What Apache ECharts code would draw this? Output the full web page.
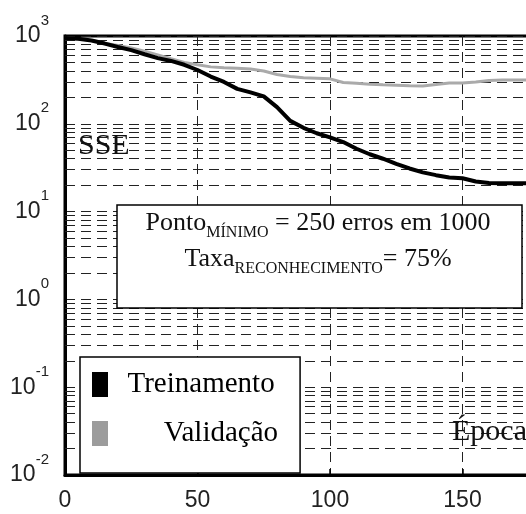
<!DOCTYPE html>
<html>
<head>
<meta charset="utf-8">
<script src="https://cdn.jsdelivr.net/npm/echarts@6/dist/echarts.min.js"></script>
<style>
  html, body { margin: 0; padding: 0; background: #fff; }
  #chart { width: 526px; height: 514px; }
</style>
</head>
<body>
<div id="chart"></div>
<script>
// épocas (eixo x)
const epocas = [0, 5, 10, 15, 20, 25, 30, 35, 40, 45, 50, 55, 60, 65, 70, 75, 80, 85, 90, 95,
  100, 105, 110, 115, 120, 125, 130, 135, 140, 145, 150, 155, 160, 165, 170, 175, 180, 185, 190, 195, 200]

// SSE de treinamento
const treinamento = [950, 930, 890, 820, 750, 690, 620, 560, 520, 470, 410, 345, 300, 250, 228, 205, 155, 108, 90, 78,
  70, 62, 52, 45, 40, 35, 31, 28, 26, 24.5, 24, 22, 21.2, 21, 21, 21, 21, 21, 21, 21, 21]

// SSE de validação
const validacao = [950, 930, 890, 830, 780, 730, 670, 610, 550, 500, 470, 445, 435, 430, 420, 400, 365, 345, 335, 330,
  325, 295, 290, 282, 278, 275, 272, 270, 280, 292, 292, 300, 312, 315, 316, 315, 315, 315, 315, 315, 315]

const nomes = ['Treinamento', 'Validação']

// linhas de grade secundárias (2..9 x 10^k)
const gradeMenor = []
for (let k = -2; k <= 2; k++) {
  for (let m = 2; m <= 9; m++) {
    gradeMenor.push(m * Math.pow(10, k))
  }
}

const serif = '"Liberation Serif", "Times New Roman", serif'
const sans = '"Liberation Sans Narrow", "Liberation Sans", Arial, sans-serif'
const tracejado = { color: '#222', width: 1, type: [10, 6] }

const chart = echarts.init(document.getElementById('chart'))

const option = {
  backgroundColor: '#fff',
  animation: false,
  grid: {
    left: 65,
    top: 36,
    bottom: 39,
    right: -69,
    outerBoundsMode: 'none',
    containLabel: false,
    show: true,
    borderColor: '#000',
    borderWidth: 3
  },
  legend: {
    data: nomes,
    orient: 'vertical',
    left: 80,
    top: 357,
    icon: 'rect',
    itemWidth: 16,
    itemHeight: 25,
    itemGap: 20,
    padding: [13, 22, 25, 12],
    borderColor: '#000',
    borderWidth: 1.5,
    backgroundColor: '#fff',
    formatter: name => (name === 'Treinamento' ? '  ' : '       ') + name,
    textStyle: {
      fontFamily: serif,
      fontSize: 29,
      lineHeight: 25,
      color: '#000'
    }
  },
  xAxis: {
    type: 'value',
    min: 0,
    max: 200,
    interval: 50,
    axisLine: { lineStyle: { color: '#000', width: 3 } },
    axisTick: { inside: true, length: 6, lineStyle: { color: '#000', width: 1.5 } },
    axisLabel: {
      margin: 14,
      fontFamily: sans,
      fontSize: 23,
      color: '#222'
    },
    splitLine: { show: true, lineStyle: tracejado }
  },
  yAxis: {
    type: 'log',
    logBase: 10,
    min: 0.01,
    max: 1000,
    axisLine: { show: true, lineStyle: { color: '#000', width: 3 } },
    axisTick: { show: false },
    splitLine: { show: true, lineStyle: tracejado },
    axisLabel: {
      margin: 16,
      formatter: v => '{b|10}{s|' + Math.round(Math.log10(v)) + '}',
      rich: {
        b: { fontFamily: sans, fontSize: 23, lineHeight: 46, color: '#222' },
        s: { fontFamily: sans, fontSize: 15, lineHeight: 14, verticalAlign: 'top', color: '#222' }
      }
    }
  },
  series: [
    {
      name: 'Validação',
      type: 'line',
      data: epocas.map((e, i) => [e, validacao[i]]),
      symbol: 'none',
      color: '#9c9c9c',
      lineStyle: { color: '#aaaaaa', width: 3 },
      z: 2,
      markLine: {
        silent: true,
        z: 1,
        symbol: ['none', 'none'],
        label: { show: false },
        lineStyle: tracejado,
        data: gradeMenor.map(v => ({ yAxis: v }))
      }
    },
    {
      name: 'Treinamento',
      type: 'line',
      data: epocas.map((e, i) => [e, treinamento[i]]),
      symbol: 'none',
      color: '#000',
      lineStyle: { color: '#000', width: 4 },
      z: 3
    }
  ],
  graphic: [
    {
      type: 'text',
      z: 10,
      style: { x: 78, y: 146, text: 'SSE', verticalAlign: 'middle', font: '30px ' + serif, fill: '#111' }
    },
    {
      type: 'text',
      z: 10,
      style: { x: 452, y: 432, text: 'Época', verticalAlign: 'middle', font: '30px ' + serif, fill: '#111' }
    },
    {
      type: 'rect',
      z: 10,
      shape: { x: 117, y: 205, width: 405, height: 103 },
      style: { fill: '#fff', stroke: '#000', lineWidth: 1.5 }
    },
    {
      type: 'text',
      z: 11,
      style: {
        x: 318,
        y: 205,
        align: 'center',
        verticalAlign: 'top',
        text: '{a|Ponto}{s|MÍNIMO}{a| = 250 erros em 1000}\n{a|Taxa}{s|RECONHECIMENTO}{a|= 75%}',
        rich: {
          a: { fontFamily: serif, fontSize: 26, lineHeight: 36, fill: '#111' },
          s: { fontFamily: serif, fontSize: 16, lineHeight: 16, verticalAlign: 'bottom', fill: '#111' }
        }
      }
    }
  ]
}

chart.setOption(option)
</script>
</body>
</html>
